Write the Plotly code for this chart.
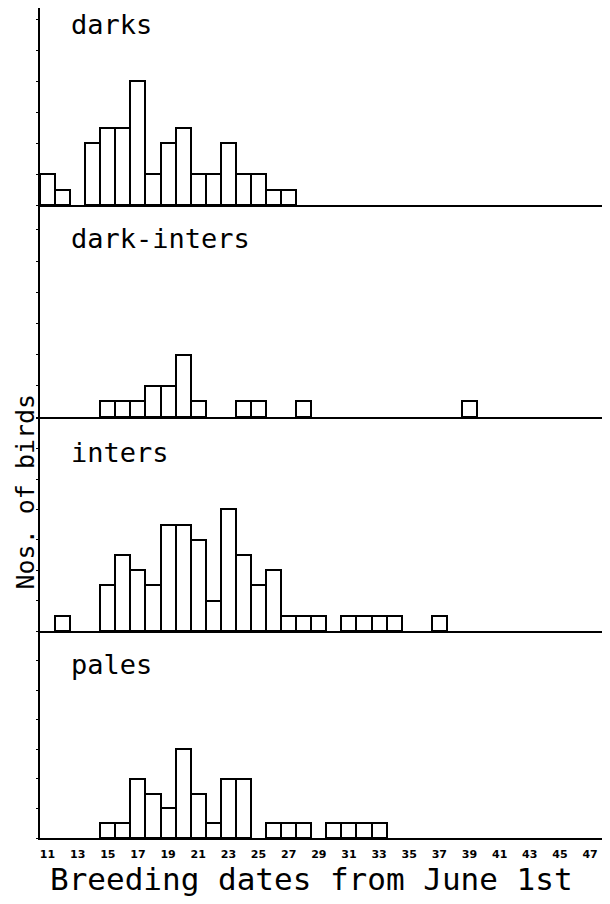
import plotly.graph_objects as go

# ---- data ----
darks_days = [11, 12, 14, 15, 16, 17, 18, 19, 20, 21, 22, 23, 24, 25, 26, 27]
darks_n = [2, 1, 4, 5, 5, 8, 2, 4, 5, 2, 2, 4, 2, 2, 1, 1]

dint_days = [15, 16, 17, 18, 19, 20, 21, 24, 25, 28, 39]
dint_n = [1, 1, 1, 2, 2, 4, 1, 1, 1, 1, 1]

inters_days = [12, 15, 16, 17, 18, 19, 20, 21, 22, 23, 24, 25, 26, 27, 28, 29, 31, 32, 33, 34, 37]
inters_n = [1, 3, 5, 4, 3, 7, 7, 6, 2, 8, 5, 3, 4, 1, 1, 1, 1, 1, 1, 1, 1]

pales_days = [15, 16, 17, 18, 19, 20, 21, 22, 23, 24, 26, 27, 28, 30, 31, 32, 33]
pales_n = [1, 1, 4, 3, 2, 6, 3, 1, 4, 4, 1, 1, 1, 1, 1, 1, 1]

panel_names = ["darks", "dark-inters", "inters", "pales"]
tick_days = list(range(11, 48, 2))
tick_labels = [str(d) for d in tick_days]

series = [(darks_days, darks_n), (dint_days, dint_n), (inters_days, inters_n), (pales_days, pales_n)]

# ---- layout geometry (page has an 8px body margin) ----
OFF = 8
W, H = 610 - OFF, 904 - OFF
ML, MR, MT = 40 - OFF, 0, 0
base_page = [205, 417, 631, 838]
base_px = [b - OFF for b in base_page]
MB = H - base_px[-1]
plot_h = H - MT - MB
top_px = [MT, base_px[0], base_px[1], base_px[2]]
unit_px = [15.5, 15.6, 15.2, 14.8]
plot_w = W - ML - MR

def py(page_y):
    return (H - MB - (page_y - OFF)) / plot_h

def px(page_x):
    return (page_x - OFF - ML) / plot_w

FONT = "DejaVu Sans Mono"
fig = go.Figure()
layout = dict(
    width=W, height=H,
    margin=dict(l=ML, r=MR, t=MT, b=MB, pad=0),
    plot_bgcolor="white", paper_bgcolor="white",
    showlegend=False, bargap=0,
)

xr = [10.5, 10.5 + plot_w / 15.07]
for i, (days, n) in enumerate(series):
    k = "" if i == 0 else str(i + 1)
    fig.add_trace(go.Bar(
        x=days, y=n, width=1,
        marker=dict(color="white", line=dict(color="black", width=2)),
        xaxis="x" + k, yaxis="y" + k, hoverinfo="skip",
    ))
    dom = [(H - MB - base_px[i]) / plot_h, (H - MB - top_px[i]) / plot_h]
    yrange = [0, (base_px[i] - top_px[i]) / unit_px[i]]
    layout["yaxis" + k] = dict(
        domain=dom, range=yrange, showline=True, linecolor="black", linewidth=2,
        showgrid=False, zeroline=False, showticklabels=False,
        ticks="outside", ticklen=2, tickwidth=1, tickcolor="black", dtick=2,
    )
    xa = dict(
        anchor="y" + k, range=xr, showline=True, linecolor="black", linewidth=2,
        showgrid=False, zeroline=False,
    )
    if i > 0:
        xa["matches"] = "x"
    if i == 3:
        xa.update(tickmode="array", tickvals=tick_days, ticktext=tick_labels,
                  ticks="", ticklabelstandoff=5,
                  tickfont=dict(family="DejaVu Sans", size=11, color="black", weight="bold"))
    else:
        xa["showticklabels"] = False
    layout["xaxis" + k] = xa

fig.update_layout(**layout)

label_y = [24, 238, 452, 664]
for name, yy in zip(panel_names, label_y):
    fig.add_annotation(text=name, xref="paper", yref="paper",
                       x=px(70), y=py(yy), xanchor="left", yanchor="middle",
                       showarrow=False, borderpad=0,
                       font=dict(family=FONT, size=27, color="black"))

fig.add_annotation(text="Nos. of birds", xref="paper", yref="paper",
                   x=px(24.5), y=py(492), textangle=-90,
                   xanchor="center", yanchor="middle", showarrow=False, borderpad=0,
                   font=dict(family=FONT, size=25, color="black"))
fig.add_annotation(text="Breeding dates from June 1st", xref="paper", yref="paper",
                   x=px(311), y=py(879),
                   xanchor="center", yanchor="middle", showarrow=False, borderpad=0,
                   font=dict(family=FONT, size=31, color="black"))

fig.write_html("out.html")
